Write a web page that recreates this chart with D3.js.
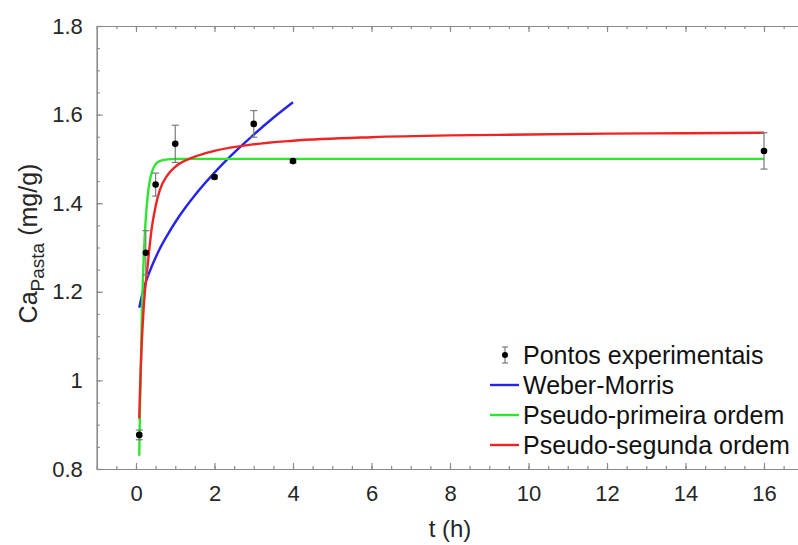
<!DOCTYPE html>
<html>
<head>
<meta charset="utf-8">
<script src="https://cdn.jsdelivr.net/npm/d3@7"></script>
<style>
  body { margin: 0; background: #fff; }
  svg { display: block; font-family: "Liberation Sans", Arial, sans-serif; }
</style>
</head>
<body>
<div class="canvas"></div>
<script>
// experimental points
const tExp  = [0.083, 0.25, 0.5, 1, 2, 3, 4, 16];
const caExp = [0.877, 1.288, 1.442, 1.534, 1.459, 1.579, 1.495, 1.518];
const caErr = [0.011, 0.05, 0.026, 0.042, 0.004, 0.03, 0.004, 0.041];

// Weber-Morris fit
const tWM  = [0.083, 0.15, 0.25, 0.4, 0.6, 0.8, 1, 1.25, 1.5, 2, 2.5, 3, 3.5, 4];
const caWM = [1.164, 1.191, 1.222, 1.257, 1.296, 1.328, 1.357, 1.389, 1.418, 1.469, 1.514, 1.555, 1.593, 1.628];

// pseudo-primeira ordem
const tPFO  = [0.083, 0.1, 0.15, 0.2, 0.25, 0.3, 0.35, 0.4, 0.5, 0.6, 0.8, 1, 2, 4, 8, 16];
const caPFO = [0.830, 0.931, 1.150, 1.284, 1.367, 1.418, 1.450, 1.469, 1.488, 1.495, 1.499, 1.5, 1.5, 1.5, 1.5, 1.5];

// pseudo-segunda ordem
const tPSO  = [0.083, 0.1, 0.15, 0.2, 0.3, 0.4, 0.5, 0.6, 0.8, 1, 1.5, 2, 3, 4, 6, 8, 10, 12, 14, 16];
const caPSO = [0.914, 0.970, 1.090, 1.170, 1.262, 1.343, 1.393, 1.428, 1.463, 1.482, 1.505, 1.518, 1.533, 1.541, 1.549, 1.553, 1.555, 1.557, 1.558, 1.559];

const xTicks = [0, 2, 4, 6, 8, 10, 12, 14, 16];
const yTicks = [0.8, 1, 1.2, 1.4, 1.6, 1.8];
const legendLabels = ['Pontos experimentais', 'Weber-Morris', 'Pseudo-primeira ordem', 'Pseudo-segunda ordem'];

const W = 798, H = 545;
const margin = {top: 26, left: 96.75, bottom: 76};
const plotRight = 803.25;
const plotH = H - margin.top - margin.bottom;

const svg = d3.select('.canvas').append('svg')
    .attr('width', W)
    .attr('height', H);

const x = d3.scaleLinear().domain([-1, 17]).range([margin.left, plotRight]);
const y = d3.scaleLinear().domain([0.8, 1.8]).range([margin.top + plotH, margin.top]);

const axisColor = '#8a8a8a';
const xMinor = d3.range(-1, 17.01, 0.5);
const yMinor = d3.range(0.8, 1.801, 0.05);

function styleAxis(g) {
  g.selectAll('path, line').attr('stroke', axisColor).attr('stroke-width', 1.2);
  g.selectAll('text').attr('fill', '#262626').attr('font-size', 22)
    .attr('font-family', '"Liberation Sans", Arial, sans-serif');
}

// bottom
svg.append('g').attr('transform', `translate(0,${y(0.8)})`)
  .call(d3.axisBottom(x).tickValues(xMinor).tickSize(-3).tickSizeOuter(0).tickFormat(''))
  .call(styleAxis);
svg.append('g').attr('transform', `translate(0,${y(0.8)})`)
  .call(d3.axisBottom(x).tickValues(xTicks).tickSize(-6).tickSizeOuter(0).tickPadding(16).tickFormat(d3.format('d')))
  .call(styleAxis);
// top
svg.append('g').attr('transform', `translate(0,${y(1.8)})`)
  .call(d3.axisTop(x).tickValues(xMinor).tickSize(-3).tickSizeOuter(0).tickFormat(''))
  .call(styleAxis);
svg.append('g').attr('transform', `translate(0,${y(1.8)})`)
  .call(d3.axisTop(x).tickValues(xTicks).tickSize(-6).tickSizeOuter(0).tickFormat(''))
  .call(styleAxis);
// left
svg.append('g').attr('transform', `translate(${x(-1)},0)`)
  .call(d3.axisLeft(y).tickValues(yMinor).tickSize(-3).tickSizeOuter(0).tickFormat(''))
  .call(styleAxis);
svg.append('g').attr('transform', `translate(${x(-1)},0)`)
  .call(d3.axisLeft(y).tickValues(yTicks).tickSize(-6).tickSizeOuter(0).tickPadding(14).tickFormat(d => d === 1 ? '1' : d3.format('.1f')(d)))
  .call(styleAxis);

// axis titles
svg.append('text')
  .attr('x', x(8)).attr('y', 537)
  .attr('text-anchor', 'middle')
  .attr('font-size', 24).attr('fill', '#262626')
  .text('t (h)');

const yTitle = svg.append('text')
  .attr('transform', `translate(37,${y(1.3) - 4}) rotate(-90)`)
  .attr('text-anchor', 'middle')
  .attr('font-size', 25).attr('fill', '#262626');
yTitle.append('tspan').text('Ca');
yTitle.append('tspan').attr('font-size', 19).attr('dy', 7).text('Pasta');
yTitle.append('tspan').attr('dy', -7).text(' (mg/g)');

// curves
const line = d3.line().x(d => x(d[0])).y(d => y(d[1])).curve(d3.curveMonotoneX);
const series = [
  {t: tWM, v: caWM, color: '#2424ec'},
  {t: tPFO, v: caPFO, color: '#2ee62e'},
  {t: tPSO, v: caPSO, color: '#ee2424'}
];
series.forEach(s => {
  svg.append('path')
    .datum(s.t.map((t, i) => [t, s.v[i]]))
    .attr('d', line)
    .attr('fill', 'none')
    .attr('stroke', s.color)
    .attr('stroke-width', 2.4);
});

// error bars + points
const pts = tExp.map((t, i) => ({t, v: caExp[i], e: caErr[i]}));
const eb = svg.append('g').attr('stroke', '#7a7a7a').attr('stroke-width', 1.2);
pts.forEach(p => {
  const cx = x(p.t);
  eb.append('line').attr('x1', cx).attr('x2', cx).attr('y1', y(p.v - p.e)).attr('y2', y(p.v + p.e));
  eb.append('line').attr('x1', cx - 3.5).attr('x2', cx + 3.5).attr('y1', y(p.v - p.e)).attr('y2', y(p.v - p.e));
  eb.append('line').attr('x1', cx - 3.5).attr('x2', cx + 3.5).attr('y1', y(p.v + p.e)).attr('y2', y(p.v + p.e));
});
svg.append('g').selectAll('circle').data(pts).join('circle')
  .attr('cx', d => x(d.t))
  .attr('cy', d => y(d.v))
  .attr('r', 3.3)
  .attr('fill', '#000');

// legend
const legend = svg.append('g').attr('transform', 'translate(490,355)');
const rowH = 30;
legendLabels.forEach((lab, i) => {
  const g = legend.append('g').attr('transform', `translate(0,${i * rowH})`);
  if (i === 0) {
    g.append('line').attr('x1', 15).attr('x2', 15).attr('y1', -8).attr('y2', 8).attr('stroke', '#7a7a7a').attr('stroke-width', 1.2);
    g.append('line').attr('x1', 12).attr('x2', 18).attr('y1', -8).attr('y2', -8).attr('stroke', '#7a7a7a').attr('stroke-width', 1.2);
    g.append('line').attr('x1', 12).attr('x2', 18).attr('y1', 8).attr('y2', 8).attr('stroke', '#7a7a7a').attr('stroke-width', 1.2);
    g.append('circle').attr('cx', 15).attr('cy', 0).attr('r', 3).attr('fill', '#000');
  } else {
    g.append('line').attr('x1', 0).attr('x2', 29).attr('y1', 0).attr('y2', 0)
      .attr('stroke', series[i - 1].color).attr('stroke-width', 2.4);
  }
  g.append('text').attr('x', 33).attr('y', 0).attr('dy', '0.35em')
    .attr('font-size', 25).attr('fill', '#111')
    .text(lab);
});
</script>
</body>
</html>
